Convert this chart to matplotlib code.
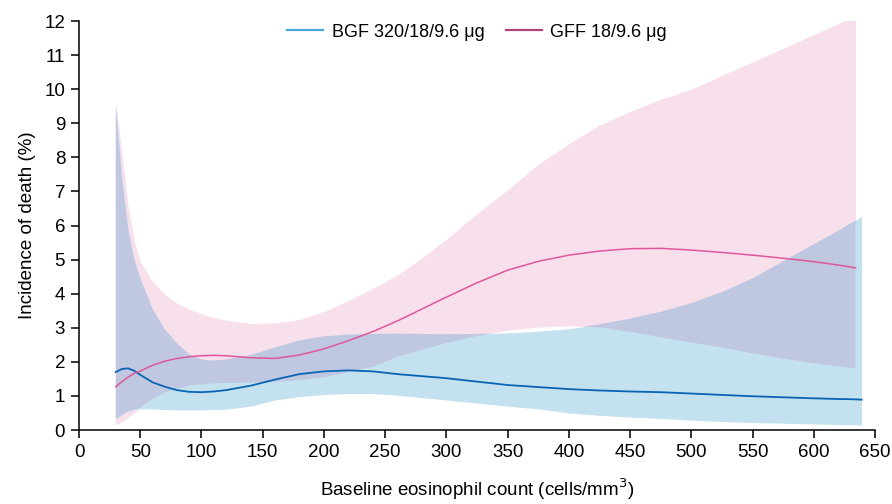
import matplotlib

matplotlib.use("Agg")
import matplotlib.pyplot as plt
import numpy as np
from matplotlib.lines import Line2D

plt.rcParams["font.family"] = ["Liberation Sans", "DejaVu Sans"]

# eosinophil grid (cells/mm3) shared by both arms
eos = [30, 35, 40, 45, 50, 60, 70, 80, 90, 100, 110, 120, 140, 160, 180, 200,
       220, 240, 260, 280, 300, 325, 350, 375, 400, 425, 450, 475, 500, 525,
       550, 575, 600, 620, 634]

# GFF 18/9.6 ug: incidence of death (%) with 95% CI
gff_mid = [1.27, 1.42, 1.55, 1.66, 1.73, 1.90, 2.02, 2.10, 2.15, 2.18, 2.19, 2.18,
           2.12, 2.10, 2.20, 2.38, 2.62, 2.89, 3.20, 3.55, 3.90, 4.32, 4.69, 4.95,
           5.13, 5.25, 5.32, 5.33, 5.28, 5.21, 5.13, 5.04, 4.94, 4.84, 4.76]
gff_hi = [9.6, 8.1, 6.6, 5.55, 4.95, 4.35, 3.98, 3.72, 3.55, 3.40, 3.30, 3.22,
          3.13, 3.14, 3.24, 3.48, 3.80, 4.15, 4.55, 5.05, 5.6, 6.35, 7.05, 7.8,
          8.4, 8.95, 9.35, 9.7, 10.0, 10.4, 10.8, 11.2, 11.6, 11.92, 12.2]
gff_lo = [0.15, 0.25, 0.37, 0.5, 0.65, 0.92, 1.1, 1.22, 1.3, 1.34, 1.37, 1.38,
          1.39, 1.41, 1.46, 1.55, 1.7, 1.86, 2.15, 2.35, 2.55, 2.76, 2.93, 3.02,
          3.06, 3.01, 2.88, 2.72, 2.57, 2.42, 2.25, 2.09, 1.96, 1.87, 1.80]

# BGF 320/18/9.6 ug runs a little further right
bgf_eos = eos + [639]
bgf_mid = [1.70, 1.79, 1.81, 1.74, 1.62, 1.40, 1.27, 1.17, 1.12, 1.11, 1.13, 1.17,
           1.30, 1.48, 1.64, 1.72, 1.75, 1.72, 1.64, 1.58, 1.52, 1.42, 1.32, 1.26,
           1.20, 1.16, 1.13, 1.11, 1.07, 1.03, 0.99, 0.96, 0.93, 0.91, 0.90, 0.89]
bgf_hi = [9.5, 7.4, 5.9, 5.0, 4.45, 3.55, 2.95, 2.54, 2.22, 2.07, 2.04, 2.07,
          2.2, 2.42, 2.63, 2.75, 2.8, 2.82, 2.83, 2.82, 2.81, 2.82, 2.85, 2.9,
          2.97, 3.1, 3.27, 3.47, 3.72, 4.05, 4.45, 4.95, 5.45, 5.85, 6.15, 6.27]
bgf_lo = [0.32, 0.45, 0.55, 0.6, 0.62, 0.62, 0.6, 0.59, 0.59, 0.59, 0.6, 0.61,
          0.7, 0.88, 0.98, 1.04, 1.07, 1.07, 1.02, 0.95, 0.88, 0.79, 0.7, 0.62,
          0.5, 0.43, 0.38, 0.34, 0.29, 0.25, 0.22, 0.2, 0.18, 0.16, 0.15, 0.15]

PINK_FILL = "#f7dfeb"
BLUE_FILL = "#c4e1ef"
BOTH_FILL = "#c0c8e1"

fig = plt.figure(figsize=(8.92, 5.04), dpi=100)
ax = fig.add_axes([0.0886, 0.1468, 0.8924, 0.8115])

ax.fill_between(eos, gff_lo, gff_hi, color=PINK_FILL, lw=0)
ax.fill_between(bgf_eos, bgf_lo, bgf_hi, color=BLUE_FILL, lw=0)

# where the two CIs overlap the bands mix like multiplied inks
n = len(eos)
lo_both = np.maximum(gff_lo, bgf_lo[:n])
hi_both = np.minimum(gff_hi, bgf_hi[:n])
ax.fill_between(eos, lo_both, hi_both, where=lo_both < hi_both,
                interpolate=True, color=BOTH_FILL, lw=0)

ax.plot(bgf_eos, bgf_mid, color="#0a64b4", lw=1.3)
ax.plot(eos, gff_mid, color="#e0579a", lw=1.1)

ax.set_xlim(0, 650)
ax.set_ylim(0, 12)
ax.set_xticks(np.arange(0, 651, 50))
ax.set_yticks(np.arange(0, 13, 1))
for side in ("top", "right"):
    ax.spines[side].set_visible(False)
for side in ("left", "bottom"):
    ax.spines[side].set_linewidth(1.1)
ax.tick_params(direction="out", length=6, width=1.1, labelsize=13.5, pad=4)

ax.set_xlabel("Baseline eosinophil count (cells/mm$^3$)", fontsize=13.5, labelpad=11)
ax.set_ylabel("Incidence of death (%)", fontsize=13.5, labelpad=6)

handles = [Line2D([], [], color="#4aa8d8", lw=1.6),
           Line2D([], [], color="#b0437a", lw=1.6)]
ax.legend(handles, ["BGF 320/18/9.6 \u03bcg", "GFF 18/9.6 \u03bcg"],
          loc="center", bbox_to_anchor=(0.5, 0.973), ncol=2, frameon=False,
          fontsize=13, handlelength=2.0, handletextpad=0.45, columnspacing=1.2)

fig.savefig("out.png", dpi=100)
